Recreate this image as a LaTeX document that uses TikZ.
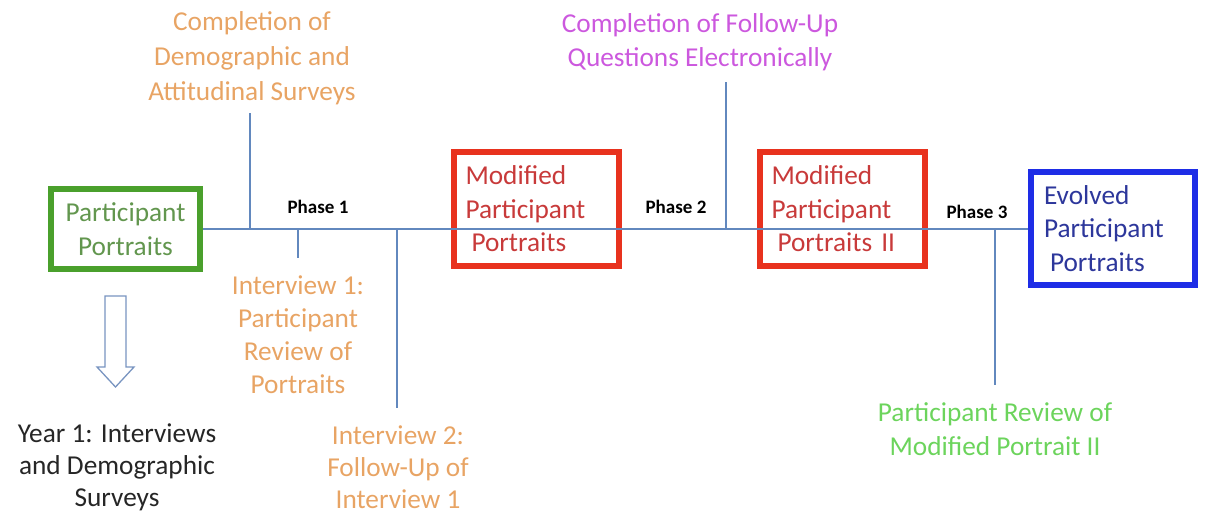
\documentclass[tikz,border=0pt]{standalone}
\usepackage{fontspec}
\setmainfont{Carlito}
\definecolor{lineblue}{RGB}{98,136,190}
\definecolor{arrowblue}{RGB}{120,148,192}
\definecolor{boxgreen}{RGB}{74,160,44}
\definecolor{txtgreen}{RGB}{98,150,78}
\definecolor{boxred}{RGB}{232,50,30}
\definecolor{txtred}{RGB}{200,58,58}
\definecolor{boxblue}{RGB}{30,45,230}
\definecolor{txtblue}{RGB}{45,55,155}
\definecolor{txtorange}{RGB}{232,164,100}
\definecolor{txtmagenta}{RGB}{204,88,222}
\definecolor{txtlgreen}{RGB}{108,212,92}
\begin{document}
\begin{tikzpicture}[x=1pt,y=-1pt,
  txt/.style={font=\fontsize{27.3}{33}\selectfont, align=center, inner sep=0pt},
  phase/.style={font=\fontsize{19}{23}\selectfont\bfseries, inner sep=0pt},
  tl/.style={draw=lineblue, line width=2.6pt},
  boxnode/.style={draw, line width=6pt, font=\fontsize{27.3}{33.5}\selectfont, inner sep=0pt}]
\useasboundingbox (0,0) rectangle (1205,514);
% boxes
\node[boxnode, draw=boxgreen, text=txtgreen, align=center, minimum width=149, minimum height=80] (pp) at (125.5,229) {Participant\\Portraits};
\node[boxnode, draw=boxred, text=txtred, align=left, text width=142, minimum width=165, minimum height=114] (m1) at (536.5,209) {Modified\\Participant\\\hspace*{6pt}Portraits};
\node[boxnode, draw=boxred, text=txtred, align=left, text width=142, minimum width=165, minimum height=114] (m2) at (842.5,209) {Modified\\Participant\\\hspace*{6pt}Portraits II};
\node[boxnode, draw=boxblue, text=txtblue, align=left, text width=138, minimum width=164, minimum height=113] (ev) at (1113,228.5) {Evolved\\Participant\\\hspace*{6pt}Portraits};
% main timeline
\draw[tl] (pp.east) -- (pp.east -| ev.west);
% phase labels
\node[phase] (ph1) at (318,207) {Phase 1};
\node[phase] (ph2) at (676,207) {Phase 2};
\node[phase] (ph3) at (977,212) {Phase 3};
% labels
\node[txt, font=\fontsize{27.3}{35}\selectfont, text=txtorange] (lsurv) at (252,58) {Completion of\\Demographic and\\Attitudinal Surveys};
\node[txt, text=txtorange] (lint1) at (298,335) {Interview 1:\\Participant\\Review of\\Portraits};
\node[txt, font=\fontsize{27.3}{32}\selectfont, text=txtorange] (lint2) at (398,467) {Interview 2:\\Follow-Up of\\Interview 1};
\node[txt, font=\fontsize{27.3}{34}\selectfont, text=txtmagenta] (lfup) at (700,42) {Completion of Follow-Up\\Questions Electronically};
\node[txt, font=\fontsize{27.3}{34}\selectfont, text=txtlgreen] (lrev) at (995,429) {Participant Review of\\Modified Portrait II};
\node[txt, font=\fontsize{27.3}{32}\selectfont, text=black!85] (lyear) at (117,467) {Year 1: Interviews\\and Demographic\\Surveys};
% ticks
\coordinate (j1) at (250,228); \coordinate (e1) at (250,113);
\coordinate (j2) at (298,228); \coordinate (e2) at (298,258);
\coordinate (j3) at (397,228); \coordinate (e3) at (397,408);
\coordinate (j4) at (726,228); \coordinate (e4) at (726,82);
\coordinate (j5) at (995,228); \coordinate (e5) at (995,385);
\draw[tl] (j1) -- (e1);
\draw[tl] (j2) -- (e2);
\draw[tl] (j3) -- (e3);
\draw[tl] (j4) -- (e4);
\draw[tl] (j5) -- (e5);
% hollow down arrow
\draw[arrowblue, line width=1.3pt, line join=miter]
  (105,296) -- (126,296) -- (126,367) -- (134,367) -- (115.5,387) -- (97,367) -- (105,367) -- cycle;
\end{tikzpicture}
\end{document}
